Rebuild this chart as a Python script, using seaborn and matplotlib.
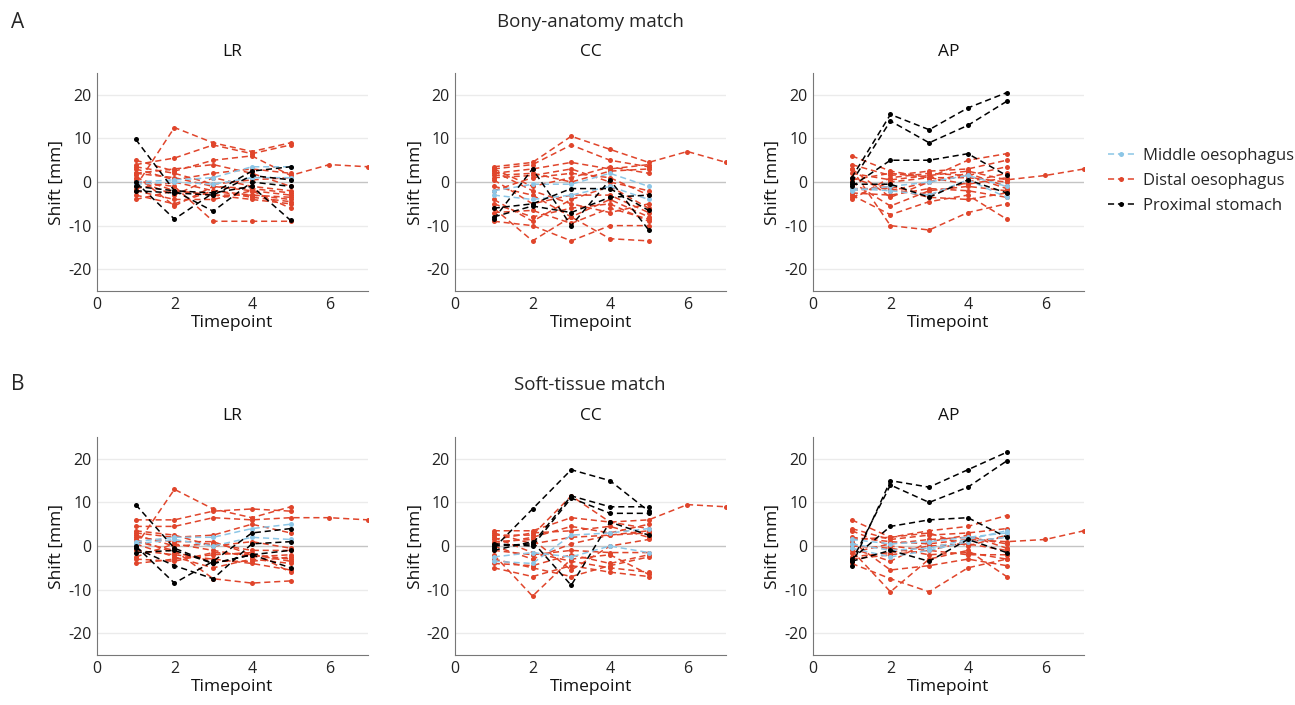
import pandas as pd
import seaborn as sns
import matplotlib.pyplot as plt
from matplotlib.lines import Line2D

sns.set_style("white")
plt.rcParams['font.family'] = ['Open Sans', 'DejaVu Sans']
plt.rcParams['axes.unicode_minus'] = False

timepoints = [1, 2, 3, 4, 5, 6, 7]
groups = ["Middle oesophagus", "Distal oesophagus", "Proximal stomach"]
colors = ["#8cc6e6", "#e0452b", "#000000"]
directions = ["LR", "CC", "AP"]

# Bony-anatomy match
bony_lr_middle = [[0, 0.5, 1, 3.5, 3.5], [-0.5, 0, -0.5, 1, 1]]
bony_lr_distal = [[-1, 12.5, 9, 7, 9], [4, 5.5, 8.5, 6.5, 8.5], [5, 2.5, 5, 6, 1.5, 4, 3.5],
                  [2, 3, 4, 2, -1], [3, 0.5, 2, 3, 2], [0, -1, -9, -9, -9], [-3, -5, -2, -3, -4],
                  [1, -2, -3, -4, -5], [-2, -4, -4, -2, -6], [2, 1, -1, -2, -3], [-4, -2, -3, -3, -3.5],
                  [0.5, -3, 1, -1, -2], [3.5, 2, -0.5, 0.5, 1], [-1.5, 0, -2, -3.5, -4.5],
                  [1.5, -5.5, -1, -1.5, -2.5]]
bony_lr_stomach = [[9.8, -2, -2.5, -1, -8.8], [0, -8.5, -2.5, 2.5, 3.5],
                   [-1, -2, -6.7, 0, -1], [-2, -2.5, -3, 1.5, 0.5]]

bony_cc_middle = [[-2, -0.5, -0.5, 2, -1], [-3, -4, -3, -1, -4]]
bony_cc_distal = [[3.5, 4.5, 10.5, 7.5, 4.5, 7, 4.5], [3, 4, 8.5, 5, 3.5], [2, 3, 4.5, 3, 4],
                  [1, 1.5, 3, 0, -2], [-2, 1, 2, 1, -3], [-6, -13.5, -8, -13, -13.5],
                  [-9, -10, -13.5, -10, -10], [0.5, -5, -3, -3, -7], [-5, -8, -6, -5, -9],
                  [2.5, -2, -5, -7, -5], [-1, -3, -8, -4, -8], [-7, -6.5, -9.5, -6, -8.5],
                  [1.5, 2, 0, 2.5, 3], [-4, -9, -4, -1, -6], [3, -1, 1, 3.5, 2]]
bony_cc_stomach = [[-8.5, 3, -10, 0.5, -11], [-8, -5.5, -7, -3.5, -3], [-6, -5, -1.5, -1.5, -6.5]]

bony_ap_middle = [[-1.5, -2, -3, 0.5, -3.5], [-2, -1, 0, 1.5, -1]]
bony_ap_distal = [[6, 2.5, 1, 5, 6.5], [4, 1.5, 2.5, 3, 5], [2, 0.5, 1.5, 2.5, 0.5, 1.5, 3],
                  [3, -10, -11, -7, -5], [-3, -7.5, -4.5, -3, -8.5], [0, -5.5, -2, -1, -2],
                  [-2, -1, -3, 0, 2], [1, -2, 0, 2, -1], [-3.5, 0, 1, 1, 0], [-2.5, -3, -1.5, -2, -3.5],
                  [0.5, 2, 1, -0.5, 1], [-1.5, -1.5, -3.5, -4, -2.5], [3, -3.5, 0, 1.5, 3.5],
                  [-4, 1, 2, 1.5, -1.5]]
bony_ap_stomach = [[1, 15.5, 12, 17, 20.5], [0, 14, 9, 13, 18.5],
                   [-1, 5, 5, 6.5, 1.5], [-0.5, -0.5, -3.5, 0.5, -2.5]]

# Soft-tissue match
soft_lr_middle = [[1, 2, 2, 4, 5], [0.5, 1.5, 0, 2, 1.5]]
soft_lr_distal = [[0, 13, 8.5, 6.5, 9], [6, 6, 8, 8.5, 8], [4.5, 4.5, 6.5, 6, 6.5, 6.5, 6],
                  [3, 2, 2.5, 5, 3], [1, -1, -7.5, -8.5, -8], [2, 1, 1, -2, -3],
                  [-1, -2, -3, -4, -5.5], [-4, -3, -2, -1.5, -6], [0.5, -2.5, -5, -3, -4],
                  [-2.5, 0.5, -1, -2.5, -2], [1.5, -1.5, -3.5, -3.5, -2.5], [3.5, 2.5, 0, 1, -0.5],
                  [-3, -3.5, -1.5, -2, -3.5], [2.5, 0, 0.5, -1, -1]]
soft_lr_stomach = [[9.5, -0.5, -4, -2, -5], [0, -8.5, -3.5, 3, 4],
                   [-0.5, -4.5, -7.5, 0.5, 1], [-1.5, -1, -4, -2, -1]]

soft_cc_middle = [[-3.5, -4, 2.5, 3, 4], [-2.5, -1.5, -2.5, 0, -1.5]]
soft_cc_distal = [[3.5, 3.5, 6.5, 5.5, 6, 9.5, 9], [2.5, 2.5, 11.5, 5.5, 4], [1.5, 3, 3.5, 4.5, 2],
                  [-2, -11.5, -3, -2, -6.5], [-5, -7, -4.5, -6, -7], [0, -3, 0.5, 2.5, 3],
                  [-4, -4.5, -2, -4, -2], [2, -1.5, -3.5, -5, -6], [1, 1.5, -5.5, 0, 1.5],
                  [-1, -2, -1, -1.5, -1.5], [3, 0.5, 2, 2.5, 3.5], [-3, -5, -7, -4.5, -2.5],
                  [0.5, 2, 4.5, 3, 5]]
soft_cc_stomach = [[-0.5, 8.5, 17.5, 15, 8], [0, 0.5, 11.5, 9, 9],
                   [0.5, 0, 11, 7.5, 7.5], [-1, 1, -9, 5.5, 2.5]]

soft_ap_middle = [[0.5, -1, -0.5, 1.5, 3.5], [1.5, 0.5, 1, 2, 3], [-0.5, -2.5, -1, 1, 2]]
soft_ap_distal = [[6, 2, 3.5, 4.5, 7], [4, 1.5, 2.5, 3, 4], [2, 1, 0.5, 1.5, 1, 1.5, 3.5],
                  [-1, -10.5, -3, -1, -7], [-4, -7.5, -10.5, -5, -3], [1, -5.5, -4.5, -3, -4.5],
                  [-2.5, -1.5, 0, 0.5, -1], [0, -0.5, -2, -1.5, -3], [-1.5, 0.5, 1.5, 2, 0.5],
                  [3.5, 0, -1, 1, 2], [-3, -2, -1, -2, -2], [1.5, 2, 3, 0, 2.5],
                  [-0.5, -3.5, 1, 2.5, -0.5]]
soft_ap_stomach = [[-4.5, 15, 13.5, 17.5, 21.5], [-3.5, 14, 10, 13.5, 19.5],
                   [-3, 4.5, 6, 6.5, 2], [-3.5, -1, -3.5, 1.5, -1.5]]

panels = [
    [(bony_lr_middle, bony_lr_distal, bony_lr_stomach),
     (bony_cc_middle, bony_cc_distal, bony_cc_stomach),
     (bony_ap_middle, bony_ap_distal, bony_ap_stomach)],
    [(soft_lr_middle, soft_lr_distal, soft_lr_stomach),
     (soft_cc_middle, soft_cc_distal, soft_cc_stomach),
     (soft_ap_middle, soft_ap_distal, soft_ap_stomach)],
]


def to_frame(series_sets):
    rows = []
    for group, series in zip(groups, series_sets):
        for pid, vals in enumerate(series):
            for t, v in zip(timepoints, vals):
                rows.append({"group": group, "pid": pid, "Timepoint": t, "Shift": v})
    return pd.DataFrame(rows)


fig = plt.figure(figsize=(12.95, 7.05), dpi=100)

lefts = [0.0749, 0.3514, 0.6278]
bottoms = [0.5872, 0.0709]
w, h = 0.2093, 0.3092
draw_order = [1, 0, 2]  # distal first, then middle, then stomach on top
dash = (0, (4, 2.5))

for r in range(2):
    for c in range(3):
        ax = fig.add_axes([lefts[c], bottoms[r], w, h])
        df = to_frame(panels[r][c])
        for yv in [-20, -10, 10, 20]:
            ax.axhline(yv, color="#ebebeb", lw=1, zorder=0)
        ax.axhline(0, color="#c4c4c4", lw=1, zorder=0)
        for gi in draw_order:
            sub = df[df["group"] == groups[gi]]
            sns.lineplot(data=sub, x="Timepoint", y="Shift", units="pid", estimator=None,
                         color=colors[gi], linestyle=dash, lw=1.1,
                         marker="o", markersize=3.6, markeredgewidth=0,
                         legend=False, sort=False, ax=ax)
        ax.set_xlim(0, 7)
        ax.set_ylim(-25, 25)
        ax.set_xticks([0, 2, 4, 6])
        ax.set_yticks([-20, -10, 0, 10, 20])
        ax.tick_params(direction="in", length=3, width=0.8, color="#555555",
                       labelsize=11.5, labelcolor="#222222", pad=4)
        for s in ["top", "right"]:
            ax.spines[s].set_visible(False)
        for s in ["left", "bottom"]:
            ax.spines[s].set_color("#777777")
            ax.spines[s].set_linewidth(0.8)
        ax.set_xlabel("Timepoint", fontsize=12.5, color="#111111", labelpad=2)
        ax.set_ylabel("Shift [mm]", fontsize=12.5, color="#111111", labelpad=2)
        ax.set_title(directions[c], fontsize=12.5, color="#111111", pad=12)

fig.text(18 / 1295, 1 - 22 / 705, "A", fontsize=15, va="center", ha="center")
fig.text(18 / 1295, 1 - 385 / 705, "B", fontsize=15, va="center", ha="center")
fig.text(590 / 1295, 1 - 22 / 705, "Bony-anatomy match", fontsize=13.5, va="center", ha="center")
fig.text(590 / 1295, 1 - 385 / 705, "Soft-tissue match", fontsize=13.5, va="center", ha="center")

handles = [Line2D([0], [0], color=col, linestyle=dash, lw=1.1, marker="o",
                  markersize=3.6, markeredgewidth=0) for col in colors]
fig.legend(handles, groups, loc="center left", bbox_to_anchor=(1093 / 1295, 1 - 181 / 705),
           frameon=False, fontsize=12, handlelength=1.6, handletextpad=0.5, labelspacing=0.55)

fig.savefig("out.png", dpi=100)
